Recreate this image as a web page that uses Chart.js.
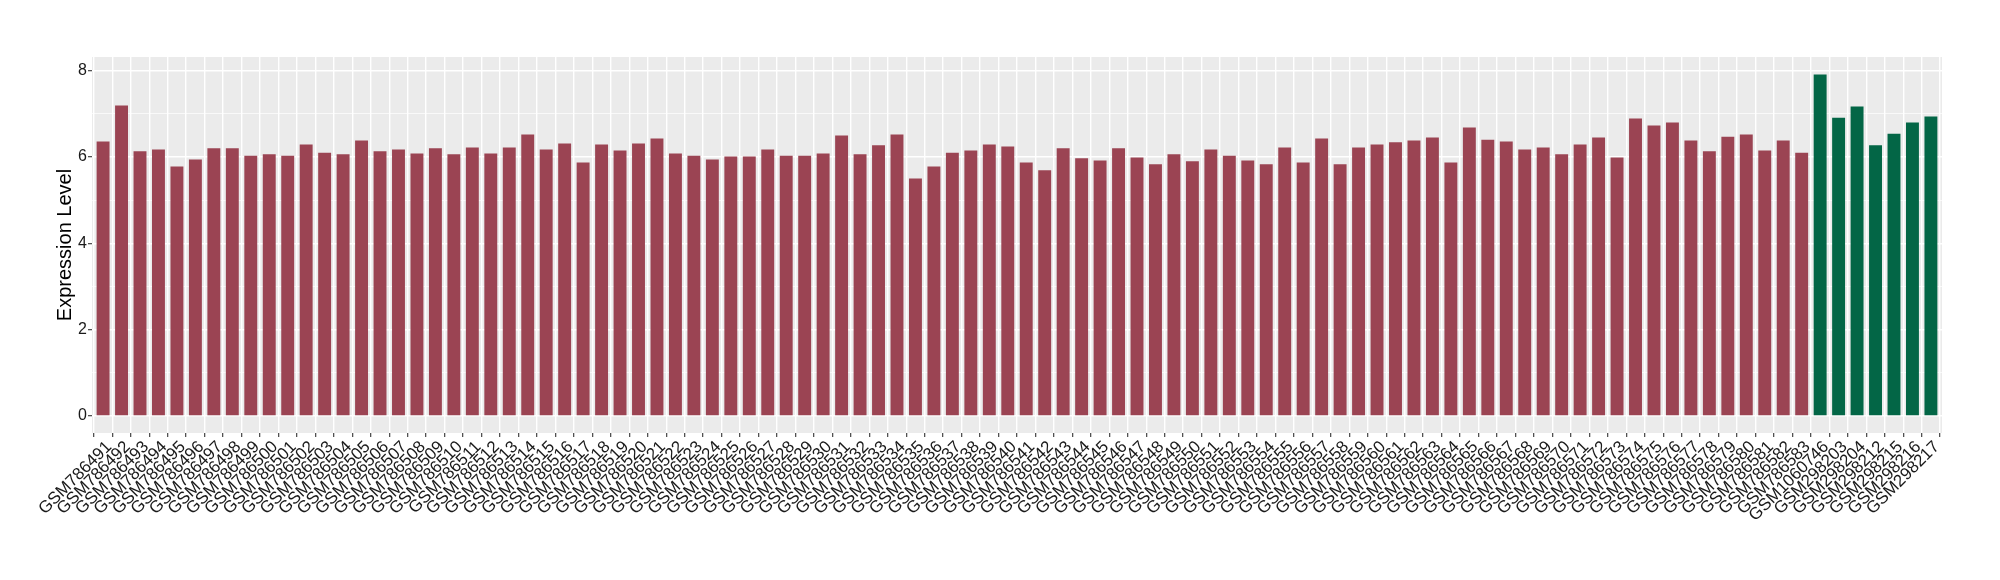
<!DOCTYPE html>
<html>
<head>
<meta charset="utf-8">
<script src="https://cdn.jsdelivr.net/npm/chart.js@4/dist/chart.umd.min.js"></script>
<style>
  html, body { margin: 0; padding: 0; background: #ffffff; }
  #wrap { width: 2000px; height: 580px; }
</style>
</head>
<body>
<div id="wrap"><canvas id="chart" width="2000" height="580"></canvas></div>
<script>
// 샘플 (대조군)
const controlSamples = [
  'GSM786491','GSM786492','GSM786493','GSM786494','GSM786495','GSM786496','GSM786497','GSM786498','GSM786499','GSM786500',
  'GSM786501','GSM786502','GSM786503','GSM786504','GSM786505','GSM786506','GSM786507','GSM786508','GSM786509','GSM786510',
  'GSM786511','GSM786512','GSM786513','GSM786514','GSM786515','GSM786516','GSM786517','GSM786518','GSM786519','GSM786520',
  'GSM786521','GSM786522','GSM786523','GSM786524','GSM786525','GSM786526','GSM786527','GSM786528','GSM786529','GSM786530',
  'GSM786531','GSM786532','GSM786533','GSM786534','GSM786535','GSM786536','GSM786537','GSM786538','GSM786539','GSM786540',
  'GSM786541','GSM786542','GSM786543','GSM786544','GSM786545','GSM786546','GSM786547','GSM786548','GSM786549','GSM786550',
  'GSM786551','GSM786552','GSM786553','GSM786554','GSM786555','GSM786556','GSM786557','GSM786558','GSM786559','GSM786560',
  'GSM786561','GSM786562','GSM786563','GSM786564','GSM786565','GSM786566','GSM786567','GSM786568','GSM786569','GSM786570',
  'GSM786571','GSM786572','GSM786573','GSM786574','GSM786575','GSM786576','GSM786577','GSM786578','GSM786579','GSM786580',
  'GSM786581','GSM786582','GSM786583'
];
const controlValues = [
  6.36, 7.19, 6.13, 6.17, 5.78, 5.94, 6.20, 6.20, 6.03, 6.06,
  6.03, 6.29, 6.10, 6.06, 6.38, 6.13, 6.17, 6.08, 6.20, 6.06,
  6.22, 6.08, 6.22, 6.52, 6.17, 6.31, 5.87, 6.29, 6.15, 6.31,
  6.43, 6.08, 6.03, 5.94, 6.01, 6.01, 6.17, 6.03, 6.03, 6.08,
  6.50, 6.06, 6.27, 6.52, 5.50, 5.78, 6.10, 6.15, 6.29, 6.24,
  5.87, 5.69, 6.20, 5.97, 5.92, 6.20, 5.99, 5.83, 6.06, 5.90,
  6.17, 6.03, 5.92, 5.83, 6.22, 5.87, 6.43, 5.83, 6.22, 6.29,
  6.34, 6.38, 6.45, 5.87, 6.68, 6.40, 6.36, 6.17, 6.22, 6.06,
  6.29, 6.45, 5.99, 6.89, 6.73, 6.80, 6.38, 6.13, 6.47, 6.52,
  6.15, 6.38, 6.10
];

// 샘플 (비교군)
const caseSamples = ['GSM1060746','GSM298203','GSM298204','GSM298212','GSM298215','GSM298216','GSM298217'];
const caseValues = [7.91, 6.91, 7.17, 6.27, 6.54, 6.80, 6.94];

// y축 눈금
const yTickValues = [0, 2, 4, 6, 8];

const allSamples = controlSamples.concat(caseSamples);

// 패널 배경 (ggplot 회색)
const panelBg = {
  id: 'panelBg',
  beforeDraw(chart) {
    const a = chart.chartArea;
    const ctx = chart.ctx;
    ctx.save();
    ctx.fillStyle = '#EBEBEB';
    ctx.fillRect(a.left, a.top, a.right - a.left, a.bottom - a.top);
    ctx.restore();
  }
};

const controlData = controlValues.map((v, i) => ({ x: i, y: v }));
const caseData = caseValues.map((v, i) => ({ x: controlSamples.length + i, y: v }));

const fontFamily = "'Liberation Sans', Arial, Helvetica, sans-serif";

new Chart(document.getElementById('chart'), {
  type: 'bar',
  data: {
    datasets: [{
      data: controlData,
      backgroundColor: '#9B4453',
      borderWidth: 0,
      grouped: false,
      barPercentage: 0.7,
      categoryPercentage: 1
    }, {
      data: caseData,
      backgroundColor: '#036646',
      borderWidth: 0,
      grouped: false,
      barPercentage: 0.7,
      categoryPercentage: 1
    }]
  },
  options: {
    responsive: false,
    animation: false,
    layout: { padding: { top: 57, right: 58, left: 0, bottom: 0 } },
    plugins: {
      legend: { display: false },
      tooltip: { enabled: false }
    },
    scales: {
      x: {
        type: 'linear',
        min: -0.6,
        max: allSamples.length - 0.4,
        offset: false,
        border: { display: false },
        grid: {
          color: '#FFFFFF',
          lineWidth: 1.4,
          tickColor: '#333333',
          tickLength: 4,
          tickWidth: 1.1
        },
        ticks: {
          stepSize: 1,
          includeBounds: false,
          autoSkip: false,
          minRotation: 45,
          maxRotation: 45,
          labelOffset: 6,
          padding: 0,
          color: '#1A1A1A',
          font: { family: fontFamily, size: 17 },
          callback: (v) => allSamples[v] || ''
        },
        afterFit(scale) { scale.height = 147; }
      },
      y: {
        min: -0.396,
        max: 8.316,
        border: { display: false },
        grid: {
          color: '#FFFFFF',
          lineWidth: (c) => yTickValues.includes(c.tick.value) ? 1.4 : 0.7,
          tickColor: (c) => yTickValues.includes(c.tick.value) ? '#333333' : 'rgba(0,0,0,0)',
          tickLength: 4,
          tickWidth: 1.1
        },
        ticks: {
          stepSize: 1,
          includeBounds: false,
          autoSkip: false,
          padding: 1,
          color: '#1A1A1A',
          font: { family: fontFamily, size: 16 },
          callback: (v) => yTickValues.includes(v) ? String(v) : ''
        },
        title: {
          display: true,
          text: 'Expression Level',
          color: '#000000',
          font: { family: fontFamily, size: 20 },
          padding: { top: 53, bottom: 0 }
        },
        afterFit(scale) { scale.width = 92; }
      }
    }
  },
  plugins: [panelBg]
});
</script>
</body>
</html>
